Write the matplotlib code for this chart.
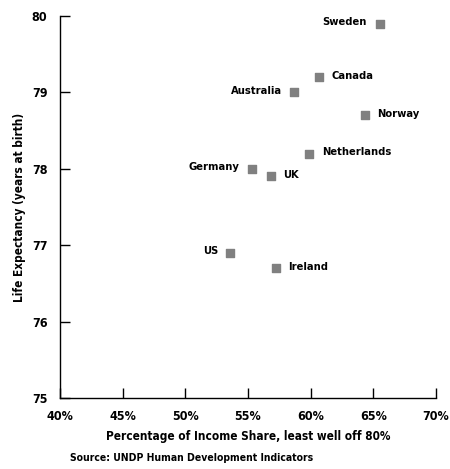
import matplotlib
matplotlib.use("Agg")
import matplotlib.pyplot as plt
from matplotlib.ticker import FuncFormatter

countries = ["Sweden", "Canada", "Australia", "Norway", "Netherlands", "Germany", "UK", "US", "Ireland"]
income_share = [65.5, 60.7, 58.7, 64.3, 59.9, 55.3, 56.8, 53.6, 57.2]
life_exp = [79.9, 79.2, 79.0, 78.7, 78.2, 78.0, 77.9, 76.9, 76.7]
label_side = ["left", "right", "left", "right", "right", "left", "right", "left", "right"]
x_ticks = [40, 45, 50, 55, 60, 65, 70]
y_ticks = [75, 76, 77, 78, 79, 80]

plt.rcParams['font.family'] = ['DejaVu Sans']
plt.rcParams['font.stretch'] = 'condensed'

fig = plt.figure(figsize=(4.5, 4.69), dpi=100)
ax = fig.add_axes([60/450, 1-398/469, 376/450, 382/469])
ax.scatter(income_share, life_exp, marker='s', s=40, color='#808080', zorder=3)

for c, xv, yv, side in zip(countries, income_share, life_exp, label_side):
    if side == "left":
        ax.annotate(c, (xv, yv), xytext=(-9, 1), textcoords='offset points',
                    ha='right', va='center', fontsize=8, fontweight='bold', fontstretch='condensed')
    else:
        ax.annotate(c, (xv, yv), xytext=(9, 1), textcoords='offset points',
                    ha='left', va='center', fontsize=8, fontweight='bold', fontstretch='condensed')

ax.set_xlim(40, 70)
ax.set_ylim(75, 80)
ax.set_xticks(x_ticks)
ax.set_yticks(y_ticks)
ax.xaxis.set_major_formatter(FuncFormatter(lambda v, p: f"{v:.0f}%"))
ax.tick_params(direction='in', length=7, width=1, labelsize=9)
ax.tick_params(axis='x', pad=9)
ax.tick_params(axis='y', pad=9)
for lab in ax.get_xticklabels() + ax.get_yticklabels():
    lab.set_fontweight('bold')
    lab.set_fontstretch('condensed')
ax.spines['top'].set_visible(False)
ax.spines['right'].set_visible(False)
ax.spines['left'].set_linewidth(1)
ax.spines['bottom'].set_linewidth(1)

ax.set_xlabel("Percentage of Income Share, least well off 80%", fontsize=8.5, fontweight='bold',
              fontstretch='condensed', labelpad=5)
ax.set_ylabel("Life Expectancy (years at birth)", fontsize=8.5, fontweight='bold',
              fontstretch='condensed', labelpad=4)
fig.text(70/450, 1-458/469, "Source: UNDP Human Development Indicators", fontsize=7.5, fontweight='bold',
         fontstretch='condensed', ha='left', va='center')

fig.savefig("out.png", dpi=100)
